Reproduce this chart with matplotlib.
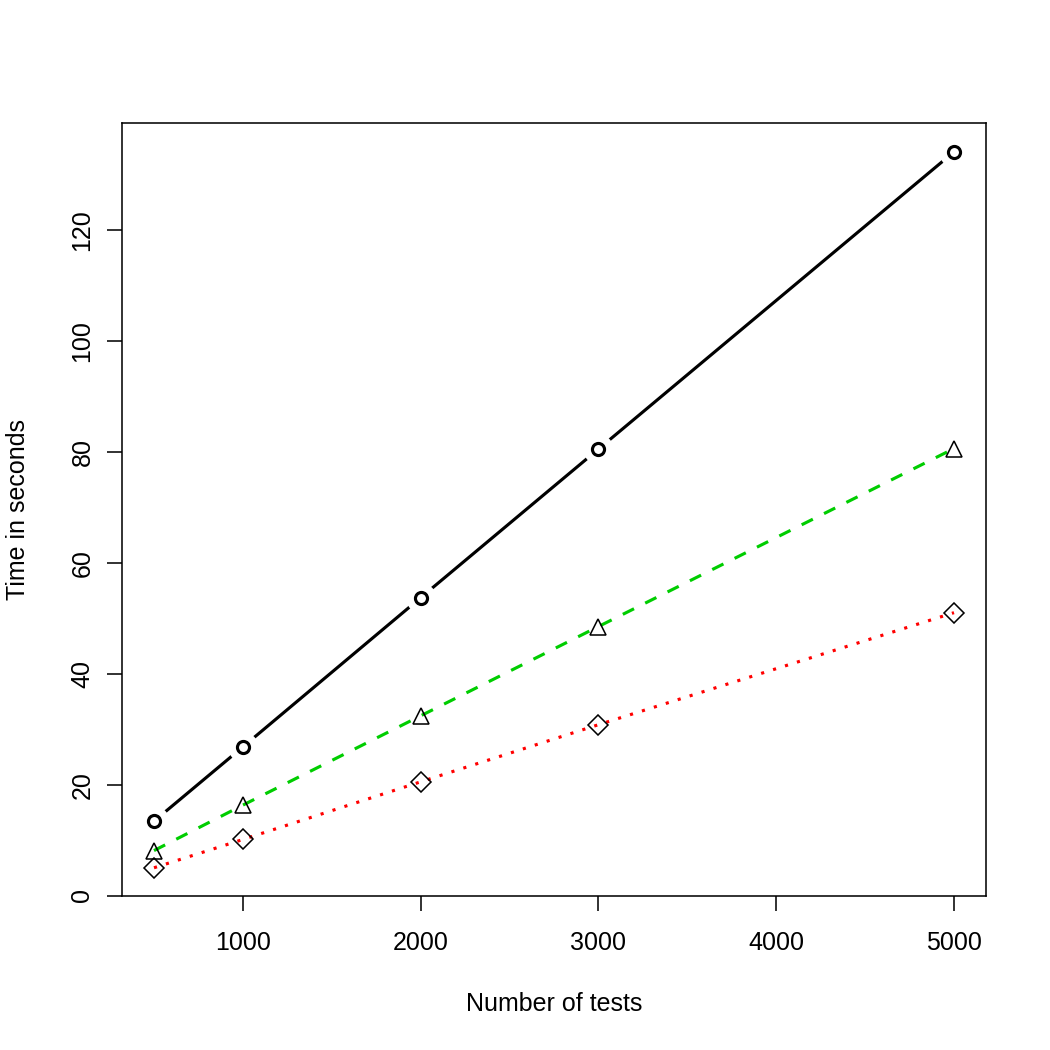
import matplotlib
matplotlib.use("Agg")
import matplotlib.pyplot as plt

# data
tests = [500, 1000, 2000, 3000, 5000]
time_black = [13.4, 26.8, 53.7, 80.5, 134.1]
time_green = [8.1, 16.3, 32.4, 48.5, 80.6]
time_red = [5.0, 10.1, 20.5, 30.8, 51.0]

x_ticks = [1000, 2000, 3000, 4000, 5000]
y_ticks = [0, 20, 40, 60, 80, 100, 120]

plt.rcParams['font.family'] = ['Liberation Sans', 'DejaVu Sans']
plt.rcParams['font.size'] = 12

fig = plt.figure(figsize=(7, 7), dpi=150)
ax = fig.add_axes([122 / 1050, 1 - 895.5 / 1050, 864 / 1050, 772.5 / 1050])

# black series: type "b" style (line broken around the points)
ax.plot(tests, time_black, color='black', lw=1.5, solid_capstyle='butt', zorder=2)
ax.plot(tests, time_black, ls='none', marker='o', ms=14.5, mfc='white', mec='white',
        mew=0, zorder=3)
ax.plot(tests, time_black, ls='none', marker='o', ms=5.8, mfc='none', mec='black',
        mew=1.5, zorder=4)

# green dashed series with triangles
ax.plot(tests, time_green, color='#00CD00', lw=1.5, dashes=(4, 4),
        dash_capstyle='butt', zorder=2)
ax.plot(tests, time_green, ls='none', marker='^', ms=7.8, mfc='none', mec='black',
        mew=0.75, zorder=4)

# red dotted series with diamonds
ax.plot(tests, time_red, color='red', lw=1.5, dashes=(1, 3),
        dash_capstyle='butt', zorder=2)
ax.plot(tests, time_red, ls='none', marker='D', ms=6.8, mfc='none', mec='black',
        mew=0.75, zorder=4)

ax.set_xlim(320, 5180)
ax.set_ylim(0, 139.3)
ax.set_xticks(x_ticks)
ax.set_yticks(y_ticks)
ax.set_yticklabels([str(v) for v in y_ticks], rotation=90, va='center')

for s in ax.spines.values():
    s.set_linewidth(0.75)
ax.tick_params(length=7.2, width=0.75, labelsize=12)
ax.tick_params(axis='x', pad=10)
ax.tick_params(axis='y', pad=6)

fig.text(554 / 1050, 1 - 1011 / 1050, 'Number of tests', ha='center', va='baseline',
         fontsize=12)
fig.text(18.5 / 1050, 1 - 509 / 1050, 'Time in seconds', ha='center', va='center',
         rotation=90, fontsize=12)

fig.savefig('out.png', dpi=150, facecolor='white')
